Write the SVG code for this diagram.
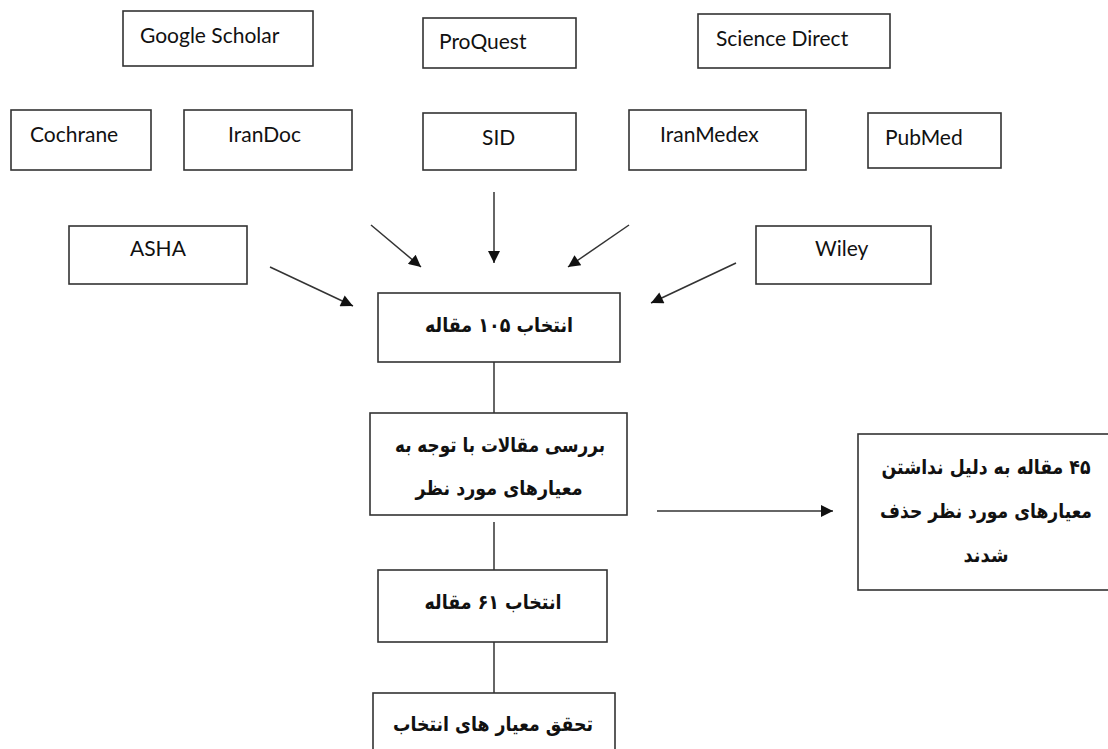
<svg xmlns="http://www.w3.org/2000/svg" width="1108" height="749" viewBox="0 0 1108 749">
<style>
.box{fill:#fff;stroke:#333;stroke-width:1.6}
.lt{font-family:Lato,"Open Sans","Liberation Sans",sans-serif;font-size:21px;fill:#111}
.fa{font-family:"DejaVu Sans","Noto Sans",sans-serif;font-weight:bold;font-size:20px;fill:#111;direction:rtl;text-anchor:middle}
.ln{stroke:#333;stroke-width:1.5;fill:none}
</style>
<defs>
<marker id="ah" viewBox="0 0 10 10" refX="10" refY="5" markerWidth="14" markerHeight="12" markerUnits="userSpaceOnUse" orient="auto"><path d="M0,0 L10,5 L0,10 z" fill="#111"/></marker>
</defs>
<rect width="1108" height="749" fill="#fff"/>
<g id="google-scholar"><rect class="box" x="123" y="11" width="190" height="55"/><text class="lt" x="140" y="43">Google Scholar</text></g>
<g id="proquest"><rect class="box" x="423" y="18" width="153" height="50"/><text class="lt" x="439" y="49">ProQuest</text></g>
<g id="science-direct"><rect class="box" x="698" y="14" width="192" height="54"/><text class="lt" x="716" y="46">Science Direct</text></g>
<g id="cochrane"><rect class="box" x="11" y="110" width="140" height="60"/><text class="lt" x="30" y="142">Cochrane</text></g>
<g id="irandoc"><rect class="box" x="184" y="110" width="168" height="60"/><text class="lt" x="228" y="142">IranDoc</text></g>
<g id="sid"><rect class="box" x="423" y="113" width="153" height="57"/><text class="lt" x="482" y="145">SID</text></g>
<g id="iranmedex"><rect class="box" x="629" y="110" width="177" height="60"/><text class="lt" x="660" y="142">IranMedex</text></g>
<g id="pubmed"><rect class="box" x="868" y="113" width="133" height="55"/><text class="lt" x="885" y="145">PubMed</text></g>
<g id="asha"><rect class="box" x="69" y="226" width="178" height="58"/><text class="lt" x="130" y="256">ASHA</text></g>
<g id="wiley"><rect class="box" x="756" y="226" width="175" height="58"/><text class="lt" x="815" y="256">Wiley</text></g>
<g id="select-105"><rect class="box" x="378" y="293" width="242" height="69"/><text class="fa" x="499" y="332" textLength="148" lengthAdjust="spacingAndGlyphs">انتخاب ۱۰۵ مقاله</text></g>
<g id="review"><rect class="box" x="370" y="413" width="257" height="102"/><text class="fa" x="500" y="452" textLength="210" lengthAdjust="spacingAndGlyphs">بررسی مقالات با توجه به</text><text class="fa" x="499" y="495" textLength="167" lengthAdjust="spacingAndGlyphs">معیارهای مورد نظر</text></g>
<g id="removed-45"><rect class="box" x="858" y="434" width="252" height="156"/><text class="fa" x="986" y="474" textLength="209" lengthAdjust="spacingAndGlyphs">۴۵ مقاله به دلیل نداشتن</text><text class="fa" x="986" y="518" textLength="212" lengthAdjust="spacingAndGlyphs">معیارهای مورد نظر حذف</text><text class="fa" x="986" y="562" textLength="45" lengthAdjust="spacingAndGlyphs">شدند</text></g>
<g id="select-61"><rect class="box" x="378" y="570" width="229" height="72"/><text class="fa" x="493" y="609" textLength="137" lengthAdjust="spacingAndGlyphs">انتخاب ۶۱ مقاله</text></g>
<g id="criteria"><rect class="box" x="373" y="693" width="242" height="70"/><text class="fa" x="493" y="731" textLength="200" lengthAdjust="spacingAndGlyphs">تحقق معیار های انتخاب</text></g>
<g id="connectors">
<line class="ln" x1="371" y1="225" x2="421" y2="267" marker-end="url(#ah)"/>
<line class="ln" x1="494" y1="192" x2="494" y2="263" marker-end="url(#ah)"/>
<line class="ln" x1="629" y1="225" x2="568" y2="267" marker-end="url(#ah)"/>
<line class="ln" x1="270" y1="267" x2="353" y2="306" marker-end="url(#ah)"/>
<line class="ln" x1="736" y1="263" x2="651" y2="303" marker-end="url(#ah)"/>
<line class="ln" x1="657" y1="511" x2="833" y2="511" marker-end="url(#ah)"/>
<line class="ln" x1="494" y1="362" x2="494" y2="413"/>
<line class="ln" x1="494" y1="522" x2="494" y2="570"/>
<line class="ln" x1="494" y1="642" x2="494" y2="693"/>
</g>
</svg>
